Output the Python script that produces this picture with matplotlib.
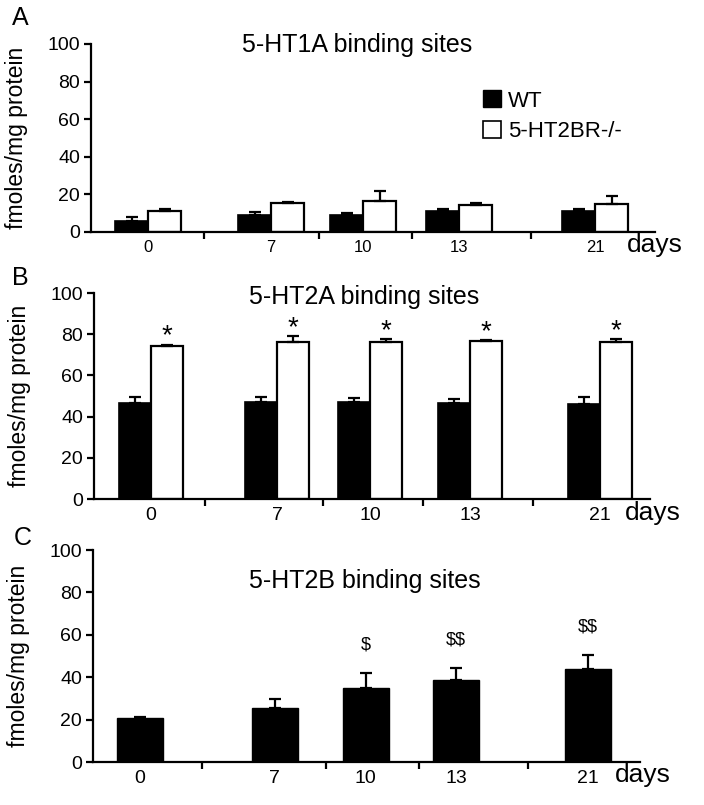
import numpy as np
import matplotlib
matplotlib.use('Agg')
import matplotlib.pyplot as plt
from matplotlib.patches import Patch

plt.rcParams['font.family'] = ['Liberation Sans', 'DejaVu Sans']

## the data
days = ['0', '7', '10', '13', '21']

# panel A: 5-HT1A binding sites
ht1a_wt = [5.9, 8.9, 8.9, 11.0, 11.0]
ht1a_wt_err = [2.1, 1.8, 1.2, 1.4, 1.4]
ht1a_ko = [11.0, 15.5, 16.5, 14.2, 14.8]
ht1a_ko_err = [1.4, 0.5, 5.2, 1.3, 4.4]

# panel B: 5-HT2A binding sites
ht2a_wt = [46.6, 47.0, 47.0, 46.7, 46.0]
ht2a_wt_err = [2.9, 2.5, 2.0, 1.7, 3.6]
ht2a_ko = [74.4, 76.4, 76.4, 76.8, 76.2]
ht2a_ko_err = [0.6, 2.7, 1.1, 0.3, 1.3]
ht2a_marks = ['*', '*', '*', '*', '*']

# panel C: 5-HT2B binding sites (WT only)
ht2b_wt = [20.6, 25.3, 35.0, 38.7, 43.7]
ht2b_wt_err = [0.8, 4.4, 7.1, 5.8, 6.8]
ht2b_marks = ['', '', '$', '$$', '$$']

## layout (x in axis-length units, the groups are not evenly spaced)
posA = [57, 180, 272, 368, 504]
sepA = [113, 228, 321, 440]
posB = [57, 183, 276, 376, 506]
sepB = [111, 229, 329, 439]
posC = [47, 181.5, 272.5, 363, 495]
sepC = [109, 233, 326, 435]

fig = plt.figure(figsize=(7.04, 8.05), dpi=100)
axA = fig.add_axes([91/704, 1-232/805, 564/704, 188/805])
axB = fig.add_axes([94/704, 1-499/805, 556/704, 206/805])
axC = fig.add_axes([93/704, 1-762/805, 547/704, 212/805])


def style(ax, pos, sep, xmax, days_x, days_y, tick_fs):
    ax.set_xlim(0, xmax)
    ax.set_ylim(0, 100)
    ax.spines['top'].set_visible(False)
    ax.spines['right'].set_visible(False)
    ax.spines['left'].set_linewidth(1.6)
    ax.spines['bottom'].set_linewidth(1.6)
    ax.set_yticks([0, 20, 40, 60, 80, 100])
    ax.set_xticks(pos)
    ax.set_xticklabels(days)
    ax.set_xticks(sep, minor=True)
    ax.tick_params(axis='x', which='major', length=0, pad=6, labelsize=tick_fs)
    ax.tick_params(axis='x', which='minor', length=5, width=1.6, direction='out')
    ax.tick_params(axis='y', length=5, width=1.6, direction='out', pad=3, labelsize=14)
    ax.set_ylabel('fmoles/mg protein', fontsize=16.5)
    ax.yaxis.set_label_coords(-63/ax.get_window_extent().width, 0.5)
    ax.text(days_x, days_y, 'days', fontsize=19, ha='left', va='center', clip_on=False)


def two_bars(ax, pos, w, wt, wt_err, ko, ko_err):
    x = np.array(pos)
    z = np.zeros(len(wt))
    ax.bar(x - w/2, wt, w, color='black', edgecolor='black', linewidth=1.2,
           yerr=[z, wt_err], error_kw=dict(elinewidth=1.6, capsize=4, capthick=1.6, ecolor='black'))
    ax.bar(x + w/2, ko, w, color='white', edgecolor='black', linewidth=1.6,
           yerr=[z, ko_err], error_kw=dict(elinewidth=1.6, capsize=4, capthick=1.6, ecolor='black'))


## panel A
two_bars(axA, posA, 33, ht1a_wt, ht1a_wt_err, ht1a_ko, ht1a_ko_err)
style(axA, posA, sepA, 564, 536, -7, 12)
axA.set_title('5-HT1A binding sites', fontsize=18, x=(357-91)/564, y=1.0, pad=-6)
axA.legend(handles=[Patch(facecolor='black', edgecolor='black'),
                    Patch(facecolor='white', edgecolor='black', linewidth=1.2)],
           labels=['WT', '5-HT2BR-/-'], loc='upper left', bbox_to_anchor=(0.68, 0.80),
           frameon=False, fontsize=16, handlelength=0.8, handleheight=0.8,
           handletextpad=0.3, labelspacing=0.4, borderaxespad=0)

## panel B
two_bars(axB, posB, 32, ht2a_wt, ht2a_wt_err, ht2a_ko, ht2a_ko_err)
style(axB, posB, sepB, 556, 531, -7, 14)
axB.set_title('5-HT2A binding sites', fontsize=18, x=(364-94)/556, y=1.0, pad=-8)
for p, v, e, m in zip(posB, ht2a_ko, ht2a_ko_err, ht2a_marks):
    axB.text(p + 16, v + e + 4, m, fontsize=20, ha='center', va='center')

## panel C
axC.bar(posC, ht2b_wt, 46, color='black', edgecolor='black',
        yerr=[np.zeros(len(ht2b_wt)), ht2b_wt_err],
        error_kw=dict(elinewidth=1.6, capsize=4, capthick=1.6, ecolor='black'))
style(axC, posC, sepC, 547, 522, -6, 14)
axC.set_title('5-HT2B binding sites', fontsize=18, x=(365-93)/547, y=1.0, pad=-27)
for p, v, e, m in zip(posC, ht2b_wt, ht2b_wt_err, ht2b_marks):
    axC.text(p, v + e + 13, m.replace('$', r'\$'), fontsize=13, ha='center', va='center')

## panel letters
fig.text(12/704, 1-18/805, 'A', fontsize=18, va='center')
fig.text(12/704, 1-278/805, 'B', fontsize=18, va='center')
fig.text(14/704, 1-538/805, 'C', fontsize=18, va='center')

plt.savefig('out.png', dpi=100)
